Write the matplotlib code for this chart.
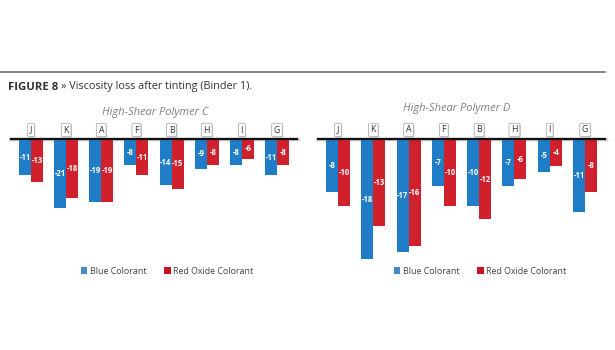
import matplotlib
matplotlib.use("Agg")
import matplotlib.pyplot as plt
from matplotlib.patches import Patch

plt.rcParams['font.family'] = ['Open Sans', 'DejaVu Sans']

categories = ["J", "K", "A", "F", "B", "H", "I", "G"]
c_blue = [-11, -21, -19, -8, -14, -9, -8, -11]
c_red = [-13, -18, -19, -11, -15, -8, -6, -8]
d_blue = [-8, -18, -17, -7, -10, -7, -5, -11]
d_red = [-10, -13, -16, -10, -12, -6, -4, -8]
series_names = ["Blue Colorant", "Red Oxide Colorant"]
subtitles = ["High-Shear Polymer C", "High-Shear Polymer D"]

BLUE = "#1f7cc6"
RED = "#d0202b"
W, H = 615, 350

fig = plt.figure(figsize=(6.15, 3.5), dpi=100)
fig.patch.set_facecolor("white")

def px_axes(x0, x1, ytop, ybot):
    return fig.add_axes([x0 / W, 1 - ybot / H, (x1 - x0) / W, (ybot - ytop) / H])

# top rule
fig.add_artist(plt.Line2D([0, 605 / W], [1 - 72 / H, 1 - 72 / H], color="#6e6e6e", lw=1.2))

# title
t1 = fig.text(8 / W, 1 - 87 / H, "FIGURE 8", fontsize=8.2, fontweight="bold", color="#333333", va="center", ha="left")
fig.canvas.draw()
bb = t1.get_window_extent(fig.canvas.get_renderer())
fig.text((bb.x1 + 3) / W, 1 - 87 / H, "» Viscosity loss after tinting (Binder 1).", fontsize=7.8,
         color="#333333", va="center", ha="left")

panels = [
    dict(blue=c_blue, red=c_red, x0=10, x1=298, ymin=-25, scale=3.3, sub=subtitles[0], subx=155, suby=112, legx=167),
    dict(blue=d_blue, red=d_red, x0=317, x1=606, ymin=-20, scale=6.67, sub=subtitles[1], subx=457, suby=109, legx=480),
]

for p in panels:
    ytop = 139
    ybot = ytop + (-p["ymin"]) * p["scale"]
    ax = px_axes(p["x0"], p["x1"], ytop, ybot)
    n = len(categories)
    spacing = (p["x1"] - p["x0"] - 2 * 21) / (n - 1)
    left = -21 / spacing
    right = n - 1 + 21 / spacing
    ax.set_xlim(left, right)
    ax.set_ylim(p["ymin"], 0)
    ax.axis("off")
    bw = 0.34
    xs = list(range(n))
    ax.bar([x - bw / 2 for x in xs], p["blue"], width=bw, color=BLUE, zorder=2)
    ax.bar([x + bw / 2 for x in xs], p["red"], width=bw, color=RED, zorder=2)
    for x, v in zip(xs, p["blue"]):
        ax.text(x - bw / 2, v / 2, str(v), ha="center", va="center", color="white",
                fontsize=5.5, fontweight="bold", zorder=3)
    for x, v in zip(xs, p["red"]):
        ax.text(x + bw / 2, v / 2, str(v), ha="center", va="center", color="white",
                fontsize=5.5, fontweight="bold", zorder=3)
    # zero axis line with shadow
    ax.axhline(0, color="#cccccc", lw=2.5, zorder=1, clip_on=False)
    ax.plot([left, right], [0, 0], color="#111111", lw=1.6, zorder=4, clip_on=False,
            solid_capstyle="butt")
    # category boxes
    for x, c in zip(xs, categories):
        ax.annotate(c, xy=(x, 0), xytext=(0.8, 8.2), textcoords="offset pixels",
                    ha="center", va="center", fontsize=6.3, color="#333333", alpha=0,
                    bbox=dict(boxstyle="round,pad=0.25,rounding_size=0.15", fc="#bbbbbb", ec="none"),
                    annotation_clip=False)
        ax.annotate(c, xy=(x, 0), xytext=(0, 9), textcoords="offset pixels",
                    ha="center", va="center", fontsize=6.3, color="#333333",
                    bbox=dict(boxstyle="round,pad=0.25,rounding_size=0.15", fc="white", ec="#b0b0b0", lw=0.6),
                    annotation_clip=False)
    fig.text(p["subx"] / W, 1 - p["suby"] / H, p["sub"], fontsize=8, style="italic",
             color="#808080", ha="center", va="center")
    handles = [Patch(facecolor="#4a88cc", edgecolor="none", label=series_names[0]),
               Patch(facecolor="#cc1122", edgecolor="none", label=series_names[1])]
    fig.legend(handles=handles, loc="center", bbox_to_anchor=(p["legx"] / W, 1 - 271 / H),
               ncol=2, frameon=False, fontsize=6.4, handlelength=0.75, handleheight=0.75,
               handletextpad=0.25, columnspacing=2.0, labelcolor="#444444")

fig.savefig("out.png", dpi=100, facecolor="white")
